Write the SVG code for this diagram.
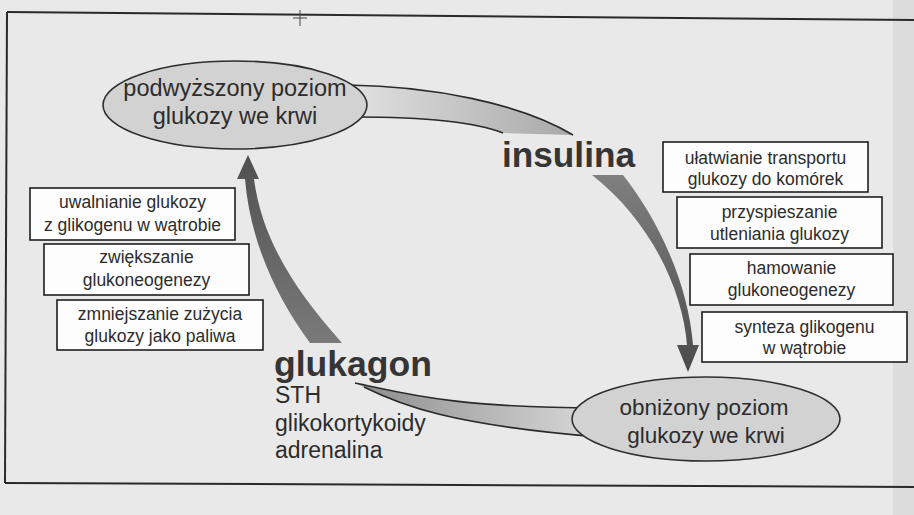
<svg xmlns="http://www.w3.org/2000/svg" width="914" height="515" viewBox="0 0 914 515">
<defs>
<linearGradient id="gTop" x1="0" y1="0" x2="1" y2="0">
<stop offset="0" stop-color="#e2e2e2"/><stop offset="1" stop-color="#a8a8a8"/>
</linearGradient>
<linearGradient id="gBot" x1="0" y1="0" x2="1" y2="0">
<stop offset="0" stop-color="#8c8c8c"/><stop offset="1" stop-color="#dadada"/>
</linearGradient>
<linearGradient id="gRight" x1="0" y1="0" x2="0" y2="1">
<stop offset="0" stop-color="#808080"/><stop offset="1" stop-color="#4a4a4a"/>
</linearGradient>
<linearGradient id="gLeft" x1="0" y1="0" x2="0" y2="1">
<stop offset="0" stop-color="#505050"/><stop offset="1" stop-color="#7a7a7a"/>
</linearGradient>
</defs>
<style>
.bg{fill:#e9e9e9}
.frame{stroke:#2a2a2a;stroke-width:2;fill:none}
.ell{fill:#d2d2d2;stroke:#2e2e2e;stroke-width:1.6}
.box{fill:#fdfdfd;stroke:#1e1e1e;stroke-width:1.6}
.edge{fill:none;stroke:#2a2a2a;stroke-width:1.6}
text{font-family:"Liberation Sans",Arial,sans-serif;fill:#2c2c2c;text-anchor:middle}
.et{font-size:23.5px}
.bt{font-size:17.5px}
.big{font-size:35px;font-weight:bold;text-anchor:start;fill:#353535}
.sub{font-size:23px;text-anchor:start}
</style>
<rect class="bg" x="0" y="0" width="914" height="515"/>
<rect x="893" y="0" width="21" height="515" fill="#dcdcdc"/>
<g id="frame">
<path class="frame" d="M7,12 L914,20"/>
<path class="frame" d="M7,12 L5,483"/>
<path class="frame" d="M5,483 L914,487"/>
<path d="M300,10 V26 M293,18 H307" stroke="#444" stroke-width="1" fill="none"/>
</g>
<g id="connectors">
<g id="insulina-arc">
<path d="M348,85 C430,86 520,103 573,135 L503,133 C475,122 420,117 355,117 Z" fill="url(#gTop)"/>
<path class="edge" d="M348,85 C430,86 520,103 573,135"/>
<path class="edge" d="M355,117 C420,117 475,122 503,133"/>
<path d="M592,175 L623,175 C655,215 688,280 693,345 L699,345 L688,372 L677,345 L687,345 C683,290 650,220 592,175 Z" fill="url(#gRight)"/>
</g>
<g id="glukagon-arc">
<path d="M600,408 C450,408 400,392 355,383 L364,387 C400,405 450,425 600,437 Z" fill="url(#gBot)"/>
<path class="edge" d="M600,408 C450,408 400,392 355,383"/>
<path class="edge" d="M364,387 C400,405 450,425 600,437"/>
<path d="M310,343 L342,343 C295,290 262,240 254,179 L259,179 L248,155 L237,179 L245,179 C250,240 275,295 310,343 Z" fill="url(#gLeft)"/>
</g>
</g>
<g id="high-glucose">
<ellipse class="ell" cx="235" cy="105" rx="132" ry="44"/>
<text class="et" x="235" y="96">podwyższony poziom</text>
<text class="et" x="235" y="124">glukozy we krwi</text>
</g>
<g id="low-glucose">
<ellipse class="ell" cx="706" cy="419" rx="134" ry="42"/>
<text class="et" x="704" y="415" style="font-size:22.5px">obniżony poziom</text>
<text class="et" x="706" y="443" style="font-size:22.5px">glukozy we krwi</text>
</g>
<g id="insulina">
<text class="big" x="502" y="167" textLength="133" lengthAdjust="spacingAndGlyphs">insulina</text>
</g>
<g id="glukagon">
<text class="big" x="274" y="376" textLength="158" lengthAdjust="spacingAndGlyphs">glukagon</text>
<text class="sub" x="275" y="403">STH</text>
<text class="sub" x="275" y="431">glikokortykoidy</text>
<text class="sub" x="275" y="458">adrenalina</text>
</g>
<g id="box-l1">
<rect class="box" x="30" y="188" width="205" height="52"/>
<text class="bt" x="132.5" y="208">uwalnianie glukozy</text>
<text class="bt" x="132.5" y="231">z glikogenu w wątrobie</text>
</g>
<g id="box-l2">
<rect class="box" x="44" y="244" width="205" height="51"/>
<text class="bt" x="146.5" y="263">zwiększanie</text>
<text class="bt" x="146.5" y="286">glukoneogenezy</text>
</g>
<g id="box-l3">
<rect class="box" x="57" y="300" width="206" height="50"/>
<text class="bt" x="160" y="320">zmniejszanie zużycia</text>
<text class="bt" x="160" y="342">glukozy jako paliwa</text>
</g>
<g id="box-r1">
<rect class="box" x="663" y="142" width="205" height="50"/>
<text class="bt" x="765.5" y="164">ułatwianie transportu</text>
<text class="bt" x="765.5" y="185">glukozy do komórek</text>
</g>
<g id="box-r2">
<rect class="box" x="677" y="197" width="205" height="51"/>
<text class="bt" x="779.5" y="218">przyspieszanie</text>
<text class="bt" x="779.5" y="240">utleniania glukozy</text>
</g>
<g id="box-r3">
<rect class="box" x="690" y="254" width="203" height="51"/>
<text class="bt" x="791.5" y="274">hamowanie</text>
<text class="bt" x="791.5" y="296">glukoneogenezy</text>
</g>
<g id="box-r4">
<rect class="box" x="702" y="312" width="205" height="50"/>
<text class="bt" x="804.5" y="333">synteza glikogenu</text>
<text class="bt" x="804.5" y="354">w wątrobie</text>
</g>
</svg>
